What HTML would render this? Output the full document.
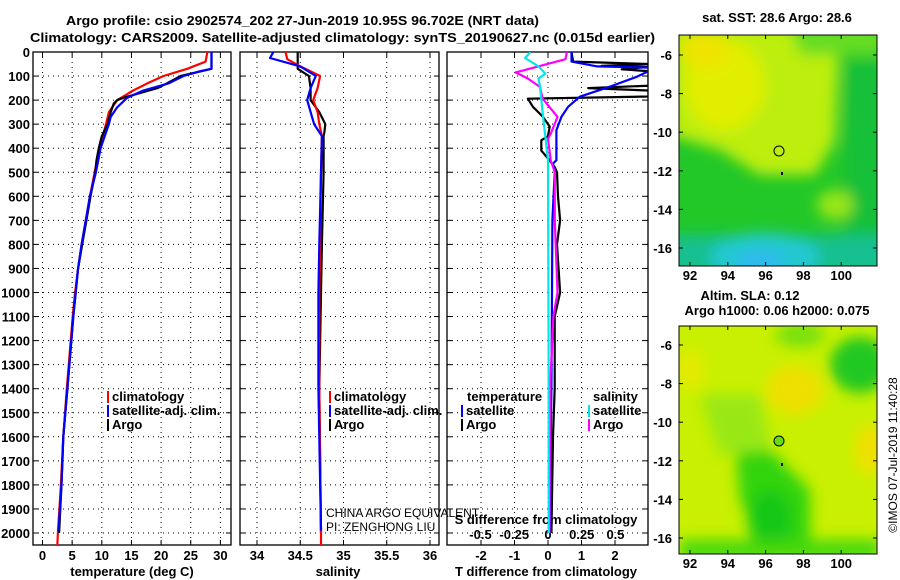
<!DOCTYPE html>
<html><head><meta charset="utf-8"><style>
body{margin:0;background:#fff}
svg{display:block;font-family:"Liberation Sans",sans-serif}
.b{font-weight:bold;font-size:13px}
</style></head><body>
<svg id="c" width="900" height="580" viewBox="0 0 900 580" xmlns="http://www.w3.org/2000/svg">
<defs>
<clipPath id="cp1"><rect x="33" y="52" width="198" height="493"/></clipPath>
<clipPath id="cp2"><rect x="240" y="52" width="199" height="493"/></clipPath>
<clipPath id="cp3"><rect x="447" y="52" width="201" height="493"/></clipPath>
<clipPath id="m1"><rect x="679" y="35" width="198" height="231"/></clipPath>
<clipPath id="m2"><rect x="679" y="326" width="198" height="228"/></clipPath>
<filter id="bl" x="-20%" y="-20%" width="140%" height="140%"><feGaussianBlur stdDeviation="7"/></filter>
</defs>
<text class="b" x="66" y="25" textLength="473" lengthAdjust="spacingAndGlyphs">Argo profile: csio 2902574_202 27-Jun-2019 10.95S 96.702E (NRT data)</text>
<text class="b" x="30" y="42" textLength="625" lengthAdjust="spacingAndGlyphs">Climatology: CARS2009. Satellite-adjusted climatology: synTS_20190627.nc (0.015d earlier)</text>
<g id="plots"></g>
<g clip-path="url(#m1)">
<rect x="679" y="35" width="198" height="231" fill="#22c828"/>
<g filter="url(#bl)">
<polygon points="670,25 840,25 835,140 815,175 760,175 720,150 670,135" fill="#bdee10"/>
<polygon points="790,25 890,25 890,55 800,55" fill="#66dd22"/>
<ellipse cx="725" cy="85" rx="40" ry="45" fill="#e2ee00"/>
<ellipse cx="705" cy="50" rx="25" ry="18" fill="#eee400"/>
<rect x="845" y="60" width="40" height="190" fill="#12c038"/>
<ellipse cx="835" cy="205" rx="18" ry="15" fill="#99e618"/>
<rect x="670" y="235" width="220" height="40" fill="#18c090"/>
<ellipse cx="765" cy="258" rx="55" ry="25" fill="#20c8d0"/>
<ellipse cx="760" cy="262" rx="25" ry="10" fill="#30b8f0"/>
</g></g>
<rect x="679" y="35" width="198" height="231" fill="none" stroke="#000"/>
<g clip-path="url(#m2)">
<rect x="679" y="326" width="198" height="228" fill="#c8f000"/>
<g filter="url(#bl)">
<ellipse cx="860" cy="365" rx="30" ry="28" fill="#22c822"/>
<ellipse cx="800" cy="335" rx="25" ry="12" fill="#77e010"/>
<polygon points="735,440 760,440 810,490 810,560 770,560 740,500" fill="#33d410"/>
<ellipse cx="770" cy="520" rx="22" ry="30" fill="#18c818"/>
<polygon points="680,540 880,540 880,560 680,560" fill="#44d810"/>
<polygon points="700,395 760,395 770,450 720,455" fill="#99e818"/>
<ellipse cx="795" cy="390" rx="30" ry="25" fill="#eee000"/>
<ellipse cx="870" cy="450" rx="15" ry="25" fill="#f0e000"/>
<ellipse cx="690" cy="370" rx="15" ry="20" fill="#e4ea00"/>
</g></g>
<rect x="679" y="326" width="198" height="228" fill="none" stroke="#000"/>
<circle cx="779" cy="151" r="5" fill="none" stroke="#000"/>
<rect x="781" y="172" width="2" height="3" fill="#000"/>
<circle cx="779" cy="441" r="5" fill="#66dd11" stroke="#000"/>
<rect x="781" y="463" width="2" height="3" fill="#000"/>
<text class="b" x="777" y="22" text-anchor="middle">sat. SST: 28.6 Argo: 28.6</text>
<text class="b" x="750" y="300" text-anchor="middle">Altim. SLA: 0.12</text>
<text class="b" x="777" y="315" text-anchor="middle">Argo h1000: 0.06 h2000: 0.075</text>
<text x="897" y="455" font-size="12" text-anchor="middle" transform="rotate(-90 897 455)">©IMOS 07-Jul-2019 11:40:28</text>
<g id="mapaxes"></g>
</svg>
<script>
const depthLabels=[0,100,200,300,400,500,600,700,800,900,1000,1100,1200,1300,1400,1500,1600,1700,1800,1900,2000];
const tempTicks=[0,5,10,15,20,25,30];
const salTicks=[34,34.5,35,35.5,36];
const salTickLabels=['34','34.5','35','35.5','36'];
const tdTicks=[-2,-1,0,1,2];
const sdTicks=[-0.5,-0.25,0,0.25,0.5];
const sdTickLabels=['-0.5','-0.25','0','0.25','0.5'];

const climTDepth=[0,40,70,100,130,160,200,250,300,400,500,600,700,800,900,1000,1100,1400,1600,1800,2000,2054];
const climT=[27.8,27.5,24.4,20.4,17.7,15.3,12.6,11.2,10.7,9.6,8.8,8.0,7.3,6.6,6.0,5.5,5.1,4.1,3.5,3.1,2.6,2.5];
const satTDepth=[0,70,80,100,130,160,190,230,270,300,400,500,600,700,800,900,1000,1100,1400,1600,1800,1990];
const satT=[28.5,28.5,26.6,23.8,21.3,17.0,14.3,12.6,11.5,11.2,9.8,9.0,8.0,7.3,6.6,6.0,5.6,5.2,4.2,3.5,3.2,2.7];
const argoTDepth=[0,70,100,130,150,170,190,200,215,250,300,350,400,450,500,600,700,800,900,1000,1100,1400,1600,1800,2000];
const argoT=[28.5,28.5,23.3,21,19.4,16.5,13.7,12.6,12,11.5,11,10,9.5,9.1,8.9,8.1,7.4,6.7,6.0,5.6,5.2,4.2,3.5,3.2,2.8];

const salDepth=[0,30,60,100,150,200,250,300,350,500,800,1000,1400,2000,2054];
const climS=[34.33,34.35,34.5,34.73,34.70,34.65,34.70,34.72,34.75,34.74,34.73,34.72,34.72,34.74,34.74];
const satSDepth=[0,25,60,100,150,200,250,300,350,500,800,1000,1400,1990];
const satS=[34.19,34.15,34.5,34.68,34.62,34.58,34.62,34.66,34.75,34.74,34.72,34.71,34.71,34.74];
const argoSDepth=[0,70,100,150,200,250,300,330,350,500,800,1000,1400,2000];
const argoS=[34.47,34.47,34.6,34.62,34.62,34.72,34.79,34.78,34.77,34.77,34.75,34.74,34.72,34.74];

const satTdDepth=[0,40,60,65,80,103,144,186,228,270,325,450,464,500,700,1000,1400,2000];
const satTd=[0.7,0.7,1.47,3,3,2.65,1.85,0.95,0.6,0.4,0.25,0.25,0.15,0.2,0.13,0.12,0.1,0.05];
const argoTdDepth=[0,40,50,58,62,72,80,140,150,160,185,194,228,270,310,350,367,410,443,478,500,600,700,800,1000,1100,1400,1600,2000];
const argoTd=[0.7,0.75,3,1.6,3,2.2,3,3,1.2,3,3,-0.6,-0.45,-0.15,0.05,0,-0.2,-0.2,0,0.2,0.27,0.3,0.36,0.27,0.36,0.2,0.2,0.15,0.1];
const argoSdDepth=[0,30,85,110,145,193,207,270,340,360,450,500,700,1000,1100,1400,2000];
const argoSd=[0.14,0.13,-0.24,-0.15,-0.06,-0.04,-0.02,0.07,0.02,0,0.02,0.05,0.05,0.07,0.04,0.015,0.01];
const satSdDepth=[0,25,60,90,110,140,250,350,450,1400,2000];
const satSd=[-0.13,-0.17,-0.07,-0.02,-0.07,-0.06,-0.04,-0.02,0,0.005,0.005];

const lonTicks=[92,94,96,98,100];
const latTicks=[-6,-8,-10,-12,-14,-16];

const yD=d=>52+d*0.2405;
const xT=t=>42.5+t*5.93;
const xS=s=>257+(s-34)*86.5;
const xTd=t=>548+t*33.5;
const xSd=s=>548+s*135;
const NS='http://www.w3.org/2000/svg';
const G=document.getElementById('plots');
function el(tag,attrs,parent){const e=document.createElementNS(NS,tag);for(const k in attrs)e.setAttribute(k,attrs[k]);(parent||G).appendChild(e);return e;}
function txt(x,y,s,anchor,cls,parent){const t=el('text',{x:x,y:y,'text-anchor':anchor||'start','class':cls||'b'},parent);t.textContent=s;return t;}

const panels=[{x:33,w:198,cp:'cp1'},{x:240,w:199,cp:'cp2'},{x:447,w:201,cp:'cp3'}];
panels.forEach((p,i)=>{
  const fr=el('rect',{x:p.x,y:52,width:p.w,height:493,fill:'none',stroke:'#000','stroke-width':1.3});
  
  
  depthLabels.forEach(d=>{
    if(d>0){const g=el('line',{x1:p.x,x2:p.x+p.w,y1:yD(d),y2:yD(d),stroke:'#000','stroke-dasharray':'1 4','stroke-width':1});
    
    }
    el('line',{x1:p.x,x2:p.x+5,y1:yD(d),y2:yD(d),stroke:'#000'});
    el('line',{x1:p.x+p.w-5,x2:p.x+p.w,y1:yD(d),y2:yD(d),stroke:'#000'});
  });
});
depthLabels.forEach(d=>{
  const t=txt(30,yD(d)+5,String(d),'end');
  
  
});
function vgrid(ticks,fx,labels,ly){
  ticks.forEach((v,i)=>{
    const g=el('line',{x1:fx(v),x2:fx(v),y1:52,y2:545,stroke:'#000','stroke-dasharray':'1 4'});
    
    
    el('line',{x1:fx(v),x2:fx(v),y1:540,y2:545,stroke:'#000'});
    el('line',{x1:fx(v),x2:fx(v),y1:52,y2:57,stroke:'#000'});
    if(labels){const t=txt(fx(v),ly,labels[i],'middle');
    
    }
  });
}
vgrid(tempTicks,xT,tempTicks.map(String),560);
vgrid(salTicks,xS,salTickLabels,560);
vgrid(tdTicks,xTd,tdTicks.map(String),560);
sdTicks.forEach((v,i)=>{const t=txt(xSd(v),539,sdTickLabels[i],'middle');

});
[[132,'temperature (deg C)','x-axis-title-temperature'],[338,'salinity','x-axis-title-salinity'],[546,'T difference from climatology','x-axis-title-tdiff']].forEach(a=>{
  const t=txt(a[0],576,a[1],'middle');
  
  
});
const sdt=txt(546,524,'S difference from climatology','middle');



function line(depths,vals,fx,color,cp,name,w){
  const pts=depths.map((d,i)=>fx(vals[i]).toFixed(1)+','+yD(d).toFixed(1)).join(' ');
  const p=el('polyline',{points:pts,fill:'none',stroke:color,'stroke-width':w||2.2,'clip-path':'url(#'+cp+')','stroke-linejoin':'round'});
  
  
}
line(climTDepth,climT,xT,'#ff0000','cp1','climatology-temperature-line');
line(argoTDepth,argoT,xT,'#000','cp1','argo-temperature-line');
line(satTDepth,satT,xT,'#0000ff','cp1','satellite-temperature-line');
line(argoSDepth,argoS,xS,'#000','cp2','argo-salinity-line');
line(salDepth,climS,xS,'#ff0000','cp2','climatology-salinity-line');
line(satSDepth,satS,xS,'#0000ff','cp2','satellite-salinity-line');
line(argoTdDepth,argoTd,xTd,'#000','cp3','argo-tdiff-line');
line(satTdDepth,satTd,xTd,'#0000ff','cp3','satellite-tdiff-line');
line(argoSdDepth,argoSd,xSd,'#ff00ff','cp3','argo-sdiff-line');
line(satSdDepth,satSd,xSd,'#00e8e8','cp3','satellite-sdiff-line');

function leg(x,y,color,label,name){
  const r=el('rect',{x:x,y:y-10,width:2,height:12,fill:color});
  
  
  const t=txt(x+5,y,label,'start');
  
  
}
leg(107,401,'#ff0000','climatology','legend-climatology');
leg(107,415,'#0000ff','satellite-adj. clim.','legend-satellite-adj');
leg(107,429,'#000','Argo','legend-argo');
leg(329,401,'#ff0000','climatology','legend2-climatology');
leg(329,415,'#0000ff','satellite-adj. clim.','legend2-satellite-adj');
leg(329,429,'#000','Argo','legend2-argo');
const lt=txt(467,401,'temperature','start');


const ls=txt(593,401,'salinity','start');


leg(461,415,'#0000ff','satellite','legend-t-satellite');
leg(461,429,'#000','Argo','legend-t-argo');
leg(588,415,'#00e8e8','satellite','legend-s-satellite');
leg(588,429,'#ff00ff','Argo','legend-s-argo');
const c1=el('text',{x:326,y:517,'font-size':12});c1.textContent='CHINA ARGO EQUIVALENT';


const c2=el('text',{x:326,y:531,'font-size':12});c2.textContent='PI: ZENGHONG LIU';



const M=document.getElementById('mapaxes');
const xLon=l=>690+(l-92)*18.9;
[[35,266,55,19.3],[326,554,345,19.3]].forEach((m,mi)=>{
  lonTicks.forEach(l=>{
    el('line',{x1:xLon(l),x2:xLon(l),y1:m[1],y2:m[1]-4,stroke:'#000'},M);
    el('line',{x1:xLon(l),x2:xLon(l),y1:m[0],y2:m[0]+4,stroke:'#000'},M);
    const t=txt(xLon(l),m[1]+14,String(l),'middle','b',M);
    
    
  });
  latTicks.forEach(a=>{
    const y=m[2]+(-6-a)*m[3];
    el('line',{x1:679,x2:683,y1:y,y2:y,stroke:'#000'},M);
    el('line',{x1:873,x2:877,y1:y,y2:y,stroke:'#000'},M);
    const t=txt(672,y+5,String(a),'end','b',M);
    
    
  });
});
</script>
</body></html>
